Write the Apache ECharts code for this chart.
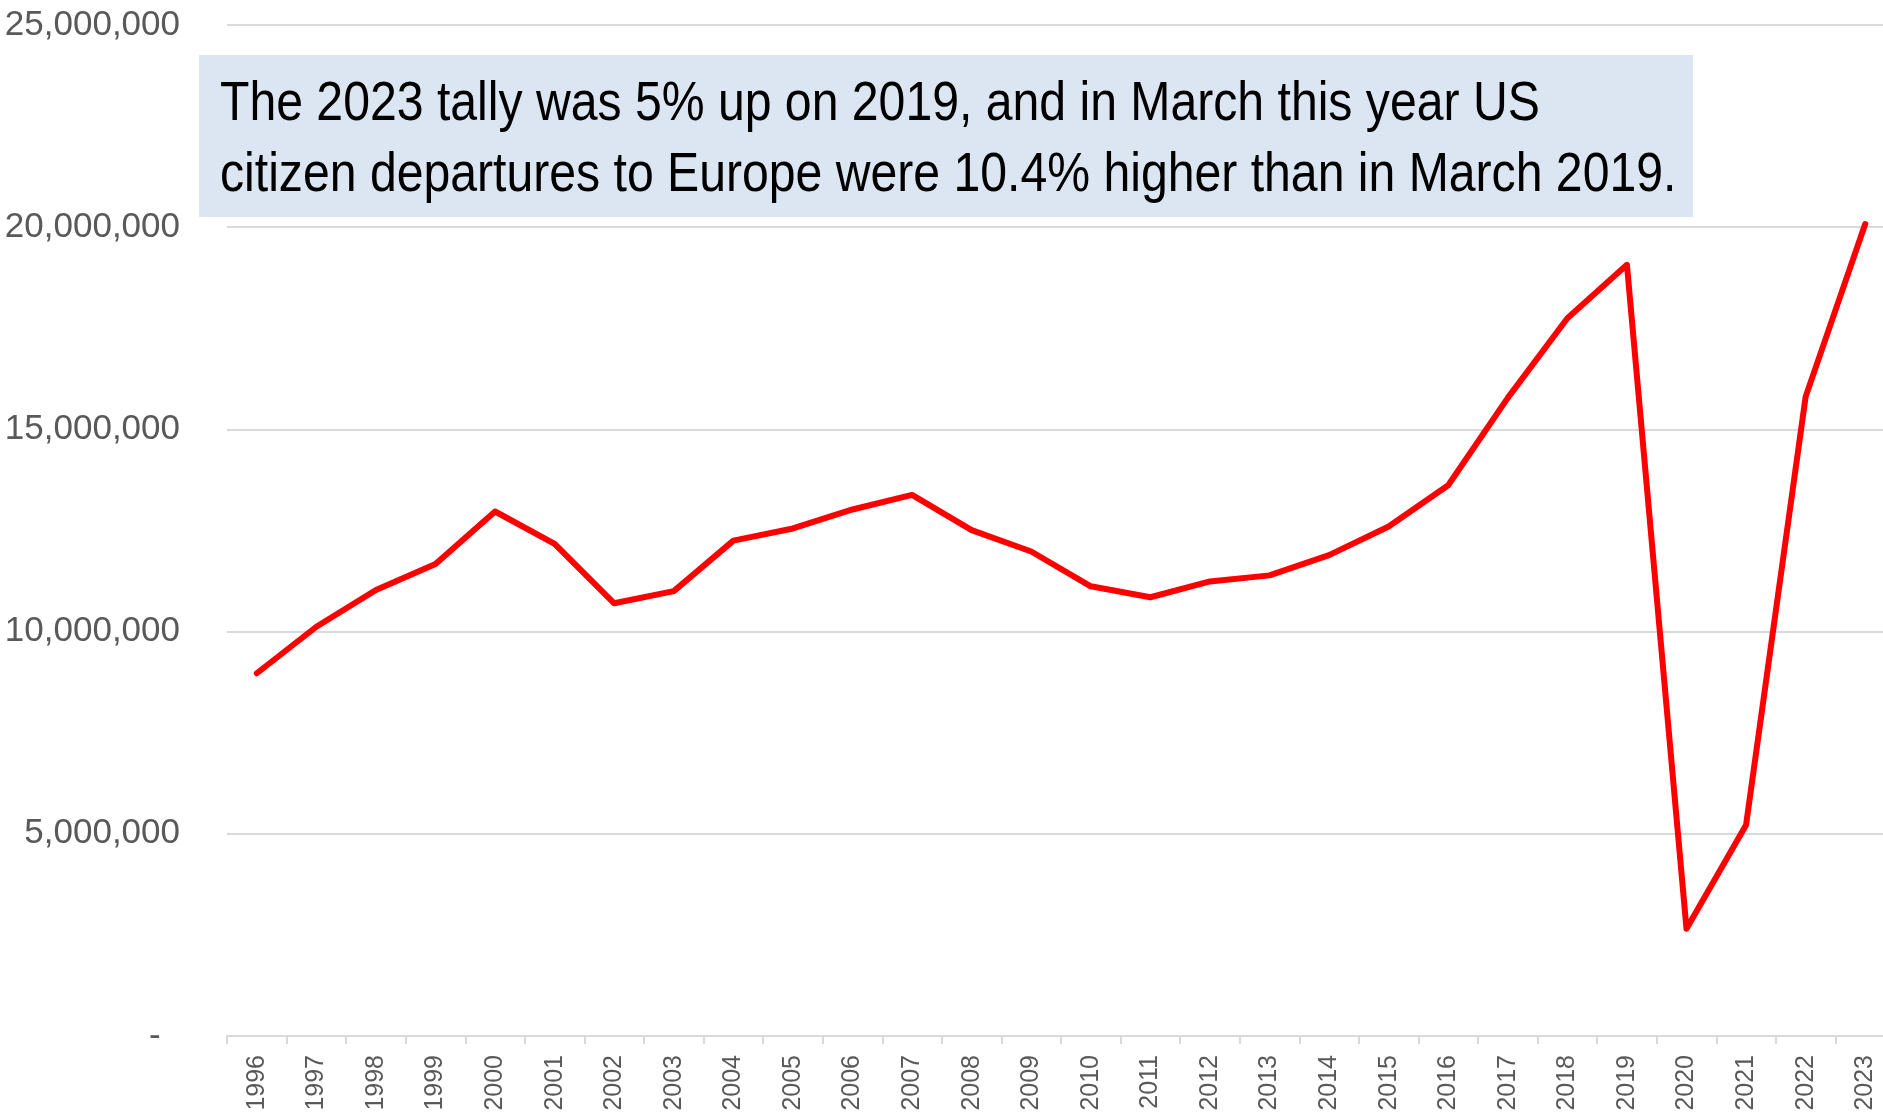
<!DOCTYPE html>
<html>
<head>
<meta charset="utf-8">
<script src="https://cdn.jsdelivr.net/npm/echarts@6/dist/echarts.min.js"></script>
<style>
html,body{margin:0;padding:0;background:#fff;}
#chart{width:1883px;height:1115px;}
</style>
</head>
<body>
<div id="chart"></div>
<script>
const years = ['1996','1997','1998','1999','2000','2001','2002','2003','2004','2005','2006','2007','2008','2009','2010','2011','2012','2013','2014','2015','2016','2017','2018','2019','2020','2021','2022','2023'];
const departures = [8970000,10120000,11030000,11670000,12970000,12170000,10700000,11000000,12250000,12550000,13020000,13380000,12510000,11980000,11120000,10850000,11240000,11390000,11890000,12600000,13620000,15780000,17750000,19070000,2650000,5220000,15810000,20080000];
const yTicks = [0,5000000,10000000,15000000,20000000,25000000];
const noteLines = ['The 2023 tally was 5% up on 2019, and in March this year US','citizen departures to Europe were 10.4% higher than in March 2019.'];

const chart = echarts.init(document.getElementById('chart'), null, {renderer:'canvas'});
const fmt = v => v === 0 ? '-  ' : v.toLocaleString('en-US');
chart.setOption({
  animation:false,
  backgroundColor:'#ffffff',
  grid:{left:227, right:-12, top:25, bottom:79, containLabel:false, outerBoundsMode:'none'},
  xAxis:{
    type:'category',
    data:years,
    boundaryGap:true,
    axisLine:{show:true, lineStyle:{color:'#d9d9d9', width:2}},
    axisTick:{show:true, length:8, lineStyle:{color:'#d9d9d9', width:2}},
    axisLabel:{rotate:90, margin:19, color:'#595959', fontSize:25, fontFamily:'"Liberation Sans", Arial, sans-serif', interval:0},
    splitLine:{show:false}
  },
  yAxis:{
    type:'value',
    min:yTicks[0], max:yTicks[yTicks.length-1], interval:yTicks[1]-yTicks[0],
    axisLine:{show:false}, axisTick:{show:false},
    axisLabel:{margin:47, color:'#595959', fontSize:35, fontFamily:'"Liberation Sans", Arial, sans-serif', formatter:fmt},
    splitLine:{show:true, lineStyle:{color:'#d9d9d9', width:2}}
  },
  series:[{
    type:'line',
    data:departures,
    showSymbol:false,
    symbol:'none',
    lineStyle:{color:'#ff0000', width:6, cap:'round', join:'round'},
    z:3
  }],
  graphic:[
    {type:'rect', shape:{x:199, y:55, width:1494, height:162}, style:{fill:'#dce6f2'}, z:10},
    {type:'text', x:220, y:105, scaleX:0.86, z:11, style:{x:0, y:0, text:noteLines[0], fill:'#000', font:'56px "Liberation Sans", Arial, sans-serif', verticalAlign:'middle', align:'left'}},
    {type:'text', x:220, y:176, scaleX:0.86, z:11, style:{x:0, y:0, text:noteLines[1], fill:'#000', font:'56px "Liberation Sans", Arial, sans-serif', verticalAlign:'middle', align:'left'}}
  ]
});
</script>
</body>
</html>
